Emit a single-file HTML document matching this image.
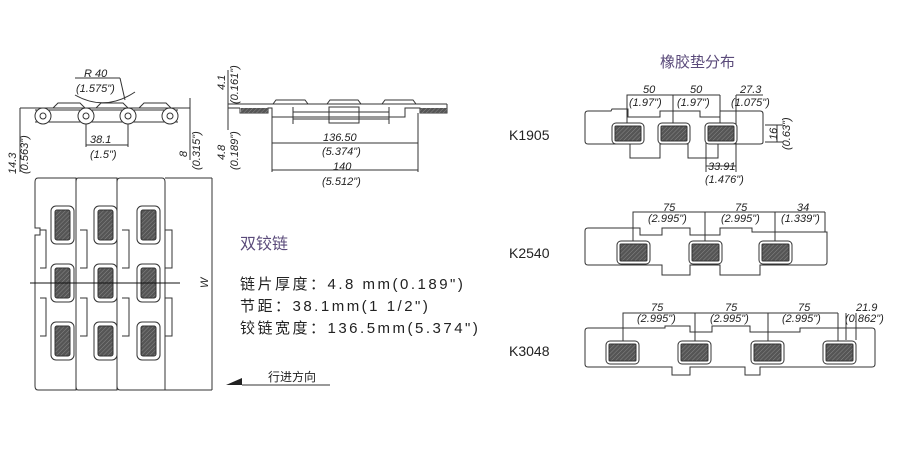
<!DOCTYPE html>
<html><head><meta charset="utf-8"><style>
html,body{margin:0;padding:0;background:#fff;}
svg{display:block;}
text{font-family:"Liberation Sans","Noto Sans CJK SC",sans-serif;fill:#222;}
.d{font-size:11px;font-style:italic;}
</style></head><body>
<svg width="900" height="450" viewBox="0 0 900 450" xmlns="http://www.w3.org/2000/svg">
<defs>
<pattern id="h" width="3" height="3" patternUnits="userSpaceOnUse" patternTransform="rotate(45)">
<rect width="3" height="3" fill="#555"/><line x1="0" y1="0" x2="0" y2="3" stroke="#888" stroke-width="1"/>
</pattern>
</defs>
<g fill="none" stroke="#333" stroke-width="1">
<line x1="20" y1="108" x2="190" y2="108"/>
<line x1="35" y1="110" x2="178" y2="110"/>
<line x1="35" y1="122" x2="178" y2="122"/>
<path d="M53 108 L58 103 L80 103 L85 108 M96 108 L101 103 L123 103 L128 108 M139 108 L144 103 L166 103 L171 108"/>
<circle cx="43" cy="116" r="8" fill="#fff"/><circle cx="43" cy="116" r="3"/>
<circle cx="86" cy="116" r="8" fill="#fff"/><circle cx="86" cy="116" r="3"/>
<circle cx="128" cy="116" r="8" fill="#fff"/><circle cx="128" cy="116" r="3"/>
<circle cx="170" cy="116" r="8" fill="#fff"/><circle cx="170" cy="116" r="3"/>
<path d="M75 95 Q105 112 135 92"/>
<line x1="75" y1="78" x2="120" y2="78"/>
<line x1="120" y1="78" x2="125" y2="100"/>
<line x1="20" y1="108" x2="20" y2="172"/>
<line x1="86" y1="124" x2="86" y2="147"/><line x1="128" y1="124" x2="128" y2="147"/>
<line x1="86" y1="145" x2="128" y2="145"/>
<line x1="190" y1="98" x2="190" y2="160"/>
<line x1="228" y1="104" x2="447" y2="104"/>
<line x1="228" y1="108" x2="240" y2="108"/>
<path d="M240 108 L240 113 L268 113 L268 108 L272 108 L272 117 L405 117 L405 108 L420 108 L420 113 L447 113 L447 104"/>
<rect x="241" y="108" width="27" height="5" fill="url(#h)" stroke="none"/>
<rect x="420" y="108" width="27" height="5" fill="url(#h)" stroke="none"/>
<path d="M273 104 L276 100 L305 100 L308 104 M327 104 L330 100 L358 100 L361 104 M382 104 L385 100 L413 100 L416 104"/>
<line x1="293" y1="107" x2="293" y2="124"/><line x1="389" y1="107" x2="389" y2="124"/>
<rect x="329" y="107" width="30" height="16"/>
<line x1="293" y1="112" x2="389" y2="112"/><line x1="293" y1="119" x2="389" y2="119"/>
<line x1="272" y1="117" x2="272" y2="172"/><line x1="418" y1="113" x2="418" y2="172"/>
<line x1="272" y1="143" x2="418" y2="143"/>
<line x1="272" y1="170" x2="418" y2="170"/>
<line x1="228" y1="70" x2="228" y2="130"/>
<path d="M38 178 L76 178 L76 390 L38 390 Q35 390 35 386 L35 235 L40 235 L40 228 L35 228 L35 182 Q35 178 38 178 Z"/>
<path d="M78 178 L117 178 L117 390 L78 390 Q76 390 76 386 L76 182 Q76 178 78 178Z"/>
<path d="M120 178 L162 178 Q165 178 165 182 L165 390 L120 390 Q117 390 117 386 L117 182 Q117 178 120 178Z"/>
<line x1="165" y1="178" x2="212" y2="178"/><line x1="165" y1="390" x2="212" y2="390"/>
<line x1="212" y1="178" x2="212" y2="390"/>
<path d="M40 230 L46 230 L46 268 L40 268 M40 298 L46 298 L46 336 L40 336"/>
<path d="M80 230 L87 230 L87 268 L80 268 M80 298 L87 298 L87 336 L80 336"/>
<path d="M122 230 L129 230 L129 268 L122 268 M122 298 L129 298 L129 336 L122 336"/>
<path d="M165 230 L172 230 L172 268 L165 268 M165 298 L172 298 L172 336 L165 336"/>
</g>
<g stroke="#333" stroke-width="1">
<g fill="#fff">
<rect x="51" y="206" width="23" height="38" rx="5"/><rect x="94" y="206" width="23" height="38" rx="5"/><rect x="137" y="206" width="23" height="38" rx="5"/>
<rect x="51" y="264" width="23" height="38" rx="5"/><rect x="94" y="264" width="23" height="38" rx="5"/><rect x="137" y="264" width="23" height="38" rx="5"/>
<rect x="51" y="322" width="23" height="38" rx="5"/><rect x="94" y="322" width="23" height="38" rx="5"/><rect x="137" y="322" width="23" height="38" rx="5"/>
</g>
<g fill="url(#h)">
<rect x="55" y="210" width="15" height="30" rx="2"/><rect x="98" y="210" width="15" height="30" rx="2"/><rect x="141" y="210" width="15" height="30" rx="2"/>
<rect x="55" y="268" width="15" height="30" rx="2"/><rect x="98" y="268" width="15" height="30" rx="2"/><rect x="141" y="268" width="15" height="30" rx="2"/>
<rect x="55" y="326" width="15" height="30" rx="2"/><rect x="98" y="326" width="15" height="30" rx="2"/><rect x="141" y="326" width="15" height="30" rx="2"/>
</g>
</g>
<line x1="30" y1="283" x2="180" y2="283" stroke="#111"/>
<path d="M226 385 L242 378 L242 385 Z" fill="#222"/>
<line x1="242" y1="385" x2="330" y2="385" stroke="#333"/>
<text x="84" y="77" class="d" font-size="12">R 40</text>
<text x="76" y="92" class="d" font-size="12">(1.575")</text>
<text x="90" y="143" class="d" font-size="12">38.1</text>
<text x="90" y="158" class="d" font-size="12">(1.5")</text>
<text class="d" font-size="12" transform="translate(16,174) rotate(-90)">14.3</text>
<text class="d" font-size="12" transform="translate(28,174) rotate(-90)">(0.563")</text>
<text class="d" font-size="12" transform="translate(187,157) rotate(-90)">8</text>
<text class="d" font-size="12" transform="translate(200,170) rotate(-90)">(0.315")</text>
<text class="d" font-size="12" transform="translate(225,90) rotate(-90)">4.1</text>
<text class="d" font-size="12" transform="translate(238,104) rotate(-90)">(0.161")</text>
<text class="d" font-size="12" transform="translate(225,160) rotate(-90)">4.8</text>
<text class="d" font-size="12" transform="translate(238,170) rotate(-90)">(0.189")</text>
<text x="323" y="141" class="d" font-size="12">136.50</text>
<text x="322" y="155" class="d" font-size="12">(5.374")</text>
<text x="333" y="170" class="d" font-size="12">140</text>
<text x="322" y="185" class="d" font-size="12">(5.512")</text>
<text class="d" font-size="11" transform="translate(208,288) rotate(-90)">W</text>
<text x="240" y="249" font-size="16" style="fill:#5a4a7a">双铰链</text>
<text x="240" y="289" font-size="15" letter-spacing="2.5">链片厚度：4.8 mm(0.189")</text>
<text x="240" y="311" font-size="15" letter-spacing="2.5">节距：38.1mm(1 1/2")</text>
<text x="240" y="333" font-size="15" letter-spacing="2.5">铰链宽度：136.5mm(5.374")</text>
<text x="268" y="381" font-size="12">行进方向</text>
<text x="660" y="67" font-size="15" style="fill:#5a4a7a">橡胶垫分布</text>
<text x="509" y="140" font-size="14">K1905</text>
<text x="509" y="258" font-size="14">K2540</text>
<text x="509" y="356" font-size="14">K3048</text>
<g fill="none" stroke="#333">
<path d="M588 111 L611 111 L612 109 L628 109 L628 117 L660 117 L660 111 L700 111 L700 117 L720 117 L720 111 L760 111 Q763 111 763 114 L763 142 Q763 144 760 144 L718 144 L718 158 L688 158 L688 144 L660 144 L660 158 L630 158 L630 144 L588 144 Q585 144 585 141 L585 114 Q585 111 588 111 Z"/>
<path d="M627 133 L627 95 L673 95 L720 95 M673 133 L673 95 M720 133 L720 95 M736 95 L763 95 M736 95 L736 133"/>
<path d="M706 140 L706 172 M736 140 L736 172 M706 166 L736 166 M765 125 L783 125 M765 142 L783 142 M777 125 L777 142"/>
<path d="M588 228 L640 228 L640 235 L662 235 L662 228 L690 228 L690 235 L720 235 L720 228 L752 228 L752 232 L827 232 L827 262 Q827 265 824 265 L760 265 L760 275 L720 275 L720 265 L690 265 L690 275 L662 275 L662 265 L588 265 Q585 265 585 262 L585 231 Q585 228 588 228Z"/>
<path d="M633 252 L633 212 L705 212 L775 212 L825 212 M705 252 L705 212 M775 252 L775 212 M825 212 L825 232"/>
<path d="M588 328 L665 328 L665 326 L690 326 L690 332 L712 332 L712 326 L750 326 L750 332 L800 332 L800 328 L872 328 Q875 328 875 331 L875 364 Q875 367 872 367 L760 367 L760 375 L745 375 L745 367 L690 367 L690 375 L672 375 L672 367 L588 367 Q585 367 585 364 L585 331 Q585 328 588 328Z"/>
<path d="M623 352 L623 313 L838 313 M695 352 L695 313 M768 352 L768 313 M838 313 L838 352 M856 313 L856 340 M846 313 L846 340"/>
</g>
<g stroke="#333">
<g fill="#fff">
<rect x="612" y="123" width="32" height="21" rx="4"/><rect x="658" y="123" width="32" height="21" rx="4"/><rect x="705" y="123" width="32" height="21" rx="4"/>
<rect x="617" y="241" width="33" height="23" rx="4"/><rect x="689" y="241" width="33" height="23" rx="4"/><rect x="759" y="241" width="33" height="23" rx="4"/>
<rect x="606" y="341" width="33" height="23" rx="4"/><rect x="678" y="341" width="33" height="23" rx="4"/><rect x="751" y="341" width="33" height="23" rx="4"/><rect x="823" y="341" width="33" height="23" rx="4"/>
</g>
<g fill="url(#h)">
<rect x="615" y="126" width="26" height="15" rx="1"/><rect x="661" y="126" width="26" height="15" rx="1"/><rect x="708" y="126" width="26" height="15" rx="1"/>
<rect x="620" y="244" width="27" height="17" rx="1"/><rect x="692" y="244" width="27" height="17" rx="1"/><rect x="762" y="244" width="27" height="17" rx="1"/>
<rect x="609" y="344" width="27" height="17" rx="1"/><rect x="681" y="344" width="27" height="17" rx="1"/><rect x="754" y="344" width="27" height="17" rx="1"/><rect x="826" y="344" width="27" height="17" rx="1"/>
</g>
</g>
<g class="d" font-size="11">
<text x="643" y="93">50</text><text x="629" y="106">(1.97")</text>
<text x="690" y="93">50</text><text x="677" y="106">(1.97")</text>
<text x="740" y="93">27.3</text><text x="731" y="106">(1.075")</text>
<text x="708" y="170">33.91</text><text x="705" y="183">(1.476")</text>
<text transform="translate(777,140) rotate(-90)">16</text>
<text transform="translate(790,150) rotate(-90)">(0.63")</text>
<text x="663" y="211">75</text><text x="648" y="222">(2.995")</text>
<text x="735" y="211">75</text><text x="721" y="222">(2.995")</text>
<text x="797" y="211">34</text><text x="781" y="222">(1.339")</text>
<text x="651" y="311">75</text><text x="637" y="322">(2.995")</text>
<text x="725" y="311">75</text><text x="710" y="322">(2.995")</text>
<text x="798" y="311">75</text><text x="782" y="322">(2.995")</text>
<text x="856" y="311">21.9</text><text x="845" y="322">(0.862")</text>
</g>
</svg>
</body></html>
